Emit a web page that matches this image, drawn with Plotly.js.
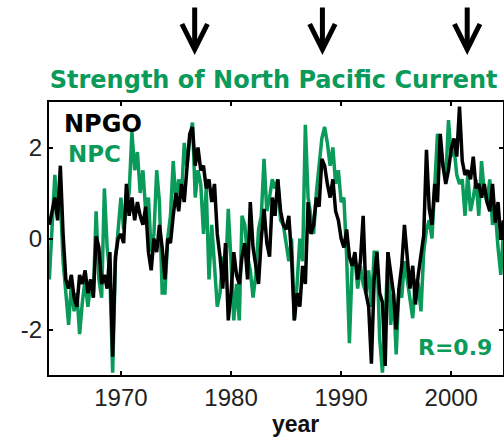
<!DOCTYPE html>
<html>
<head>
<meta charset="utf-8">
<script src="https://cdn.plot.ly/plotly-3.0.1.min.js"></script>
<style>
  html, body { margin: 0; padding: 0; background: #fff; }
  #chart { width: 504px; height: 437px; }
</style>
</head>
<body>
<div id="chart"></div>
<script>
// Quarterly index values, first sample at 1963.5, one value every 0.25 year
const startYear = 1963.5;
const stepYears = 0.25;

// NPGO index (black)
const npgo = [
  0.3, 0.6,
  0.9, 0.4, 1.6, 0.1,
  -0.9, -1.1, -0.8, -1.3,
  -1.5, -0.8, -1.0, -0.7,
  -1.2, -0.9, -1.3, 0.05,
  -0.2, -1.0, -0.8, -1.1,
  -0.3, -2.6, -0.4, 0.0,
  0.1, -0.1, 1.2, 0.5,
  0.9, 0.4, 0.8, 0.5,
  0.3, 0.7, -0.3, -0.7,
  0.0, -0.3, 0.3, -0.2,
  -0.9, 0.0, -0.1, 0.5,
  1.0, 0.6, 1.2, 0.8,
  1.5, 2.3, 2.45, 1.6,
  2.0, 1.5, 1.6, 1.1,
  1.3, 0.8, 1.2, 0.1,
  -0.4, -1.1, -0.1, -1.8,
  -1.2, -0.3, -0.8, -1.0,
  -0.4, -0.1, -0.9, 0.8,
  -0.2, -0.6, -1.0, 0.0,
  0.65, -0.1, -0.4, 0.9,
  0.5, 1.3, 0.6, 0.3,
  0.2, 0.5, -0.4, -1.8,
  -1.2, -1.5, -0.6, -1.0,
  0.8, 0.1, 0.3, 0.9,
  0.7, 1.75, 1.6, 1.2,
  0.9, 1.3, 0.6, 0.4,
  0.0, -0.2, 0.2, -0.4,
  -0.6, -0.3, -0.9, -0.5,
  0.5, -1.2, -1.5, -2.75,
  -0.9, -0.3, -1.2, -1.4,
  -2.8, -0.3, -0.7, -1.2,
  -2.0, -1.1, -0.6, 0.3,
  -0.4, -1.1, -0.6, -1.45,
  -0.8, -0.4, 0.07, 1.95,
  0.66, 0.3, 1.2, 0.8,
  2.3, 1.6, 1.2, 1.5,
  1.97, 2.2, 1.8, 2.9,
  1.7, 1.4, 1.5, 1.3,
  1.8, 1.1, 1.2, 0.9,
  1.2, 0.8, 0.6, 1.2,
  0.35, 0.8, 0.0, 0.4
];

// North Pacific Current strength (green)
const npc = [
  -0.9, 0.3,
  1.4, 0.6, 0.9, -0.5,
  -1.3, -1.9, -1.0, -1.6,
  -1.2, -2.1, -1.4, -0.9,
  -1.5, -1.0, -1.2, 0.6,
  -0.9, -1.3, 1.1, -0.2,
  -0.8, -2.95, -0.5, 0.2,
  0.9, 0.2, 0.7, 1.0,
  2.35, 1.5, 1.9, 1.0,
  1.5, 0.6, 0.9, -0.3,
  0.1, 1.5, 0.8, -1.2,
  -1.2, 0.0, 0.5, 1.7,
  0.8, 1.3, 0.9, 2.1,
  1.6, 2.2, 2.55, 0.9,
  1.5, 1.2, 0.1, 1.1,
  -0.9, 0.3, -0.5, -1.5,
  -1.2, -0.4, -0.8, 0.65,
  -0.5, -1.8, -1.0, -1.8,
  0.5, 0.3, -0.4, -0.7,
  -1.3, -0.8, 0.2, 0.5,
  1.75, 0.6, 0.9, 1.3,
  1.1, 1.3, 0.4, 0.3,
  -0.1, -0.5, 0.0, -1.8,
  -1.0, 0.0, -0.5, 2.5,
  0.9, 0.5, 0.1, 1.0,
  1.6, 2.2, 2.45, 2.1,
  1.6, 2.0, 1.2, 1.5,
  0.8, 0.9, -0.4, -2.3,
  -0.6, -0.4, -1.1, -0.6,
  -1.0, -1.2, -0.7, -1.5,
  -0.3, -0.3, -2.2, -2.95,
  -1.8, -0.3, -1.9, -1.2,
  -2.55, -1.1, -1.3, -0.5,
  -0.9, -1.4, -1.75, -0.9,
  -1.0, -1.6, -0.3, 0.2,
  0.4, 0.0, 1.2, 2.3,
  1.9, 1.6, 1.3, 2.6,
  1.8, 2.0, 1.4, 1.2,
  1.3, 0.5, 1.4, 0.6,
  0.9, 1.3, 0.5, 1.7,
  1.0, 0.8, 1.3, 0.3,
  0.6, -0.2, -0.8, 0.2
];

// Years marked with arrows above the panel
const arrowYears = [1976.7, 1988.3, 2001.45];

const xTicks = [1970, 1980, 1990, 2000];
const yTicks = [-2, 0, 2];

const years = npgo.map((_, i) => startYear + i * stepYears);

const GREEN = '#0a9a5a';

const traces = [
  {
    x: years, y: npc, type: 'scatter', mode: 'lines', name: 'NPC',
    line: { color: GREEN, width: 3.5 }, hoverinfo: 'skip'
  },
  {
    x: years, y: npgo, type: 'scatter', mode: 'lines', name: 'NPGO',
    line: { color: '#000000', width: 3.5 }, hoverinfo: 'skip'
  }
];

const axisCommon = {
  showgrid: false, zeroline: false,
  showline: true, linecolor: '#000', linewidth: 2, mirror: 'ticks',
  ticks: 'inside', ticklen: 4, tickwidth: 2, tickcolor: '#000',
  tickfont: { family: 'Liberation Sans, Arial, sans-serif', size: 24, color: '#222' }
};

const annotations = [
  {
    text: '<b>NPGO</b>', xref: 'paper', yref: 'paper', x: 0.029, y: 0.919,
    xanchor: 'left', yanchor: 'middle', showarrow: false,
    font: { family: 'DejaVu Sans, sans-serif', size: 24, color: '#000' }
  },
  {
    text: '<b>NPC</b>', xref: 'paper', yref: 'paper', x: 0.038, y: 0.81,
    xanchor: 'left', yanchor: 'middle', showarrow: false,
    font: { family: 'DejaVu Sans, sans-serif', size: 23, color: GREEN }
  },
  {
    text: '<b>R=0.9</b>', xref: 'paper', yref: 'paper', x: 0.98, y: 0.099,
    xanchor: 'right', yanchor: 'middle', showarrow: false,
    font: { family: 'DejaVu Sans, sans-serif', size: 22, color: GREEN }
  },
  {
    text: '<b>year</b>', xref: 'paper', yref: 'paper', x: 0.542, y: -0.179,
    xanchor: 'center', yanchor: 'middle', showarrow: false,
    font: { family: 'Liberation Sans, Arial, sans-serif', size: 23, color: '#111' }
  }
].concat(arrowYears.map(yr => ({
  text: '', x: yr, xref: 'x', y: 1.172, yref: 'paper',
  showarrow: true, arrowhead: 5, arrowsize: 1, arrowwidth: 5,
  arrowcolor: '#000', ax: 0, ay: -49
})));

const layout = {
  width: 504, height: 437,
  margin: { l: 49, r: 1, t: 102, b: 62 },
  paper_bgcolor: '#fff', plot_bgcolor: '#fff',
  showlegend: false,
  title: {
    text: '<b>Strength of North Pacific Current</b>',
    font: { family: 'DejaVu Sans, sans-serif', size: 24, color: GREEN },
    xref: 'container', yref: 'container',
    x: 0.543, xanchor: 'center', y: 1 - 80 / 437, yanchor: 'middle'
  },
  xaxis: Object.assign({}, axisCommon, {
    range: [1963.47, 2004.7], tickvals: xTicks, ticktext: xTicks.map(String)
  }),
  yaxis: Object.assign({}, axisCommon, {
    range: [-3, 3], tickvals: yTicks, ticktext: yTicks.map(String)
  }),
  annotations: annotations
};

Plotly.newPlot('chart', traces, layout, { staticPlot: true, displayModeBar: false });
</script>
</body>
</html>
